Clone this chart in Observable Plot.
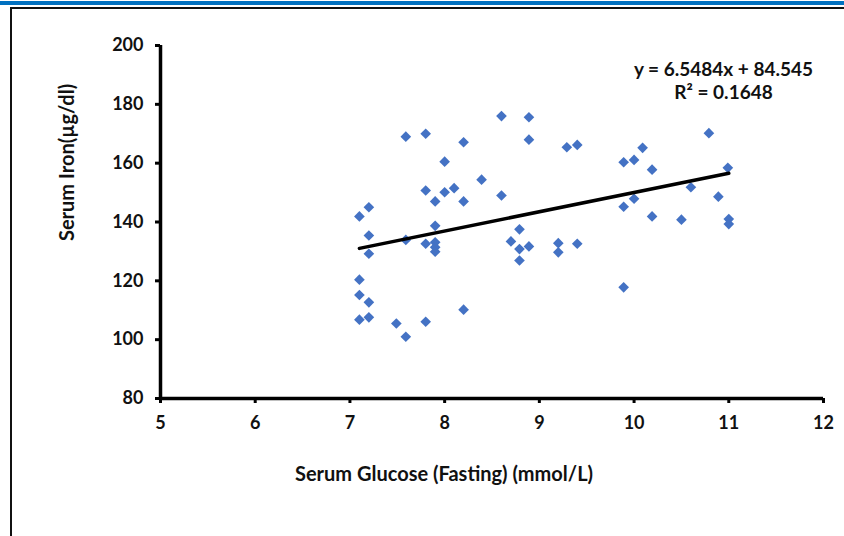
<!DOCTYPE html>
<html>
<head>
<meta charset="utf-8">
<script src="https://cdn.jsdelivr.net/npm/d3@7"></script>
<script src="https://cdn.jsdelivr.net/npm/@observablehq/plot@0.6"></script>
<style>
  html, body { margin: 0; padding: 0; background: #fff; }
  #wrap { position: relative; width: 844px; height: 536px; overflow: hidden; background: #fff; }
  #topbar { position: absolute; left: 0; top: 1px; width: 844px; height: 4px; background: #0070C0; }
  #frame { position: absolute; left: 10px; top: 7px; width: 840px; height: 540px; border-left: 2px solid #111; border-top: 2px solid #111; box-sizing: border-box; }
  #chart { position: absolute; left: 0; top: 0; }
  svg { font-family: Lato, "Open Sans", sans-serif; }
</style>
</head>
<body>
<div id="wrap">
  <div id="topbar"></div>
  <div id="frame"></div>
  <div id="chart"></div>
</div>
<script>
const glucose = [
  7.59, 7.80, 8.20, 8.00, 7.80, 8.00, 8.10, 7.90, 8.20, 7.10,
  7.20, 7.20, 7.20, 7.59, 7.90, 7.80, 7.90, 7.90, 7.90, 7.10,
  7.10, 7.20, 7.10, 7.20, 7.49, 7.59, 7.80, 8.20,
  8.60, 8.89, 8.89, 9.29, 9.40, 8.39, 8.60, 8.79, 8.70, 8.79,
  8.89, 8.79, 9.20, 9.20, 9.40,
  10.79, 10.09, 9.89, 10.00, 10.19, 10.99, 10.60, 10.00, 9.89, 10.89,
  10.19, 10.50, 11.00, 11.00, 9.89
];
const iron = [
  169.0, 170.0, 167.1, 160.5, 150.7, 150.1, 151.5, 147.0, 147.0, 141.9,
  145.0, 135.4, 129.2, 133.9, 138.7, 132.6, 133.1, 131.4, 129.9, 120.4,
  115.2, 112.7, 106.8, 107.6, 105.5, 101.0, 106.1, 110.2,
  176.0, 175.6, 168.0, 165.4, 166.2, 154.4, 149.0, 137.5, 133.4, 130.8,
  131.7, 126.9, 132.8, 129.7, 132.6,
  170.2, 165.2, 160.3, 161.1, 157.8, 158.4, 151.8, 147.9, 145.2, 148.6,
  141.9, 140.8, 141.0, 139.3, 117.8
];
const xTicks = [5, 6, 7, 8, 9, 10, 11, 12];
const yTicks = [80, 100, 120, 140, 160, 180, 200];
const slope = 6.5484;
const intercept = 84.545;
const rSquared = 0.1648;
const xLabel = "Serum Glucose (Fasting) (mmol/L)";
const yLabel = "Serum Iron(µg/dl)";
const eqLines = [`y = ${slope}x + ${intercept}`, `R² = ${rSquared}`];

const points = glucose.map((g, i) => ({x: g, y: iron[i]}));
const [xmin, xmax] = d3.extent(glucose);
const trend = [xmin, xmax].map(x => ({x, y: slope * x + intercept}));

const chart = Plot.plot({
  width: 844,
  height: 536,
  marginLeft: 160,
  marginRight: 21,
  marginTop: 45,
  marginBottom: 138,
  style: {fontFamily: "Lato, 'Open Sans', sans-serif", background: "transparent"},
  x: {domain: [5, 12], ticks: xTicks},
  y: {domain: [80, 200], ticks: yTicks},
  marks: [
    Plot.dot(points, {x: "x", y: "y", symbol: "diamond2", r: 4.8, fill: "#4472C4", stroke: "none"}),
    Plot.line(trend, {x: "x", y: "y", stroke: "#000", strokeWidth: 3.5}),
    Plot.ruleY([80], {stroke: "#000", strokeWidth: 3.5}),
    Plot.ruleX([5], {stroke: "#000", strokeWidth: 3.5}),
    Plot.axisX({ticks: xTicks, tickFormat: d => String(d), tickSize: 5, strokeWidth: 3, tickPadding: 13, fontSize: 18, fontWeight: "bold", fill: "#111", label: null}),
    Plot.axisY({ticks: yTicks, tickFormat: d => String(d), tickSize: 5, strokeWidth: 3, tickPadding: 12, fontSize: 18, fontWeight: "bold", fill: "#111", label: null}),
    Plot.text([xLabel], {frameAnchor: "bottom", dy: 82, dx: -48, fontSize: 20, fontWeight: "bold", fill: "#111"}),
    Plot.text([yLabel], {frameAnchor: "left", rotate: -90, dx: -93, dy: 19, fontSize: 20, fontWeight: "bold", fill: "#111"}),
    Plot.text([eqLines[0]], {frameAnchor: "top-right", dx: -100, dy: 17, textAnchor: "middle", fontSize: 19, fontWeight: "bold", fill: "#111"}),
    Plot.text([eqLines[1]], {frameAnchor: "top-right", dx: -100, dy: 40, textAnchor: "middle", fontSize: 19, fontWeight: "bold", fill: "#111"})
  ]
});
document.getElementById("chart").appendChild(chart);
</script>
</body>
</html>
